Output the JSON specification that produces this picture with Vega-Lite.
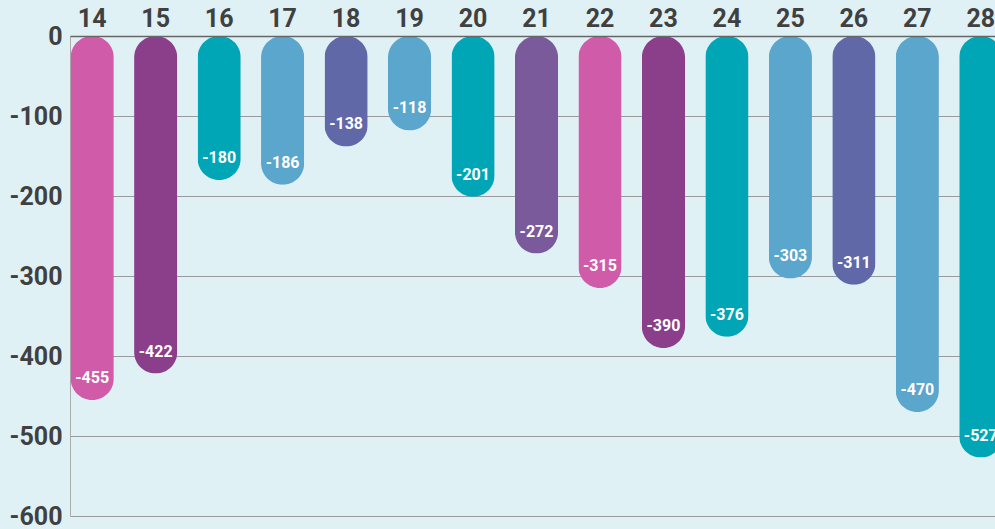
{
  "$schema": "https://vega.github.io/schema/vega-lite/v6.json",
  "autosize": "none",
  "width": 925,
  "height": 480,
  "padding": {"left": 70, "top": 36, "right": 0, "bottom": 13},
  "background": "#e0f1f6",
  "config": {
    "view": {"stroke": null},
    "font": "Roboto",
    "locale": {
      "number": {
        "decimal": ".",
        "thousands": ",",
        "grouping": [3],
        "currency": ["$", ""],
        "minus": "-"
      }
    }
  },
  "data": {
    "values": [
      {"day": "14", "value": -455, "color": "#d05ba8"},
      {"day": "15", "value": -422, "color": "#8b3f8b"},
      {"day": "16", "value": -180, "color": "#00a6b6"},
      {"day": "17", "value": -186, "color": "#5ba6cc"},
      {"day": "18", "value": -138, "color": "#6068a8"},
      {"day": "19", "value": -118, "color": "#5ba6cc"},
      {"day": "20", "value": -201, "color": "#00a6b6"},
      {"day": "21", "value": -272, "color": "#7a5a9a"},
      {"day": "22", "value": -315, "color": "#d05ba8"},
      {"day": "23", "value": -390, "color": "#8b3f8b"},
      {"day": "24", "value": -376, "color": "#00a6b6"},
      {"day": "25", "value": -303, "color": "#5ba6cc"},
      {"day": "26", "value": -311, "color": "#6068a8"},
      {"day": "27", "value": -470, "color": "#5ba6cc"},
      {"day": "28", "value": -527, "color": "#00a6b6"}
    ]
  },
  "encoding": {
    "x": {
      "field": "day",
      "type": "ordinal",
      "sort": null,
      "scale": {"range": [0, 933], "paddingInner": 0.32, "paddingOuter": 0.01},
      "axis": {
        "orient": "top",
        "title": null,
        "labelAngle": 0,
        "ticks": false,
        "labelFont": "Roboto",
        "labelFontWeight": "bold",
        "labelFontSize": 25,
        "labelColor": "#404040",
        "labelPadding": 5,
        "domainColor": "#666666",
        "domainWidth": 1.5,
        "zindex": 1
      }
    },
    "y": {
      "field": "value",
      "type": "quantitative",
      "scale": {"domain": [-600, 0], "nice": false, "zero": false},
      "axis": {
        "title": null,
        "values": [0, -100, -200, -300, -400, -500, -600],
        "ticks": false,
        "labelFont": "Roboto",
        "labelFontWeight": "bold",
        "labelFontSize": 25,
        "labelColor": "#404040",
        "labelPadding": 8,
        "domainColor": "#aaaaaa",
        "gridColor": "#9a9a9e",
        "gridWidth": 1
      }
    }
  },
  "layer": [
    {
      "mark": {"type": "bar", "cornerRadius": 21.5},
      "encoding": {
        "color": {"field": "color", "type": "nominal", "scale": null, "legend": null}
      }
    },
    {
      "mark": {
        "type": "text",
        "color": "white",
        "font": "Roboto",
        "fontWeight": "bold",
        "fontSize": 16,
        "baseline": "middle",
        "align": "center",
        "dy": -22
      },
      "encoding": {
        "text": {"field": "value", "type": "quantitative"}
      }
    }
  ]
}
